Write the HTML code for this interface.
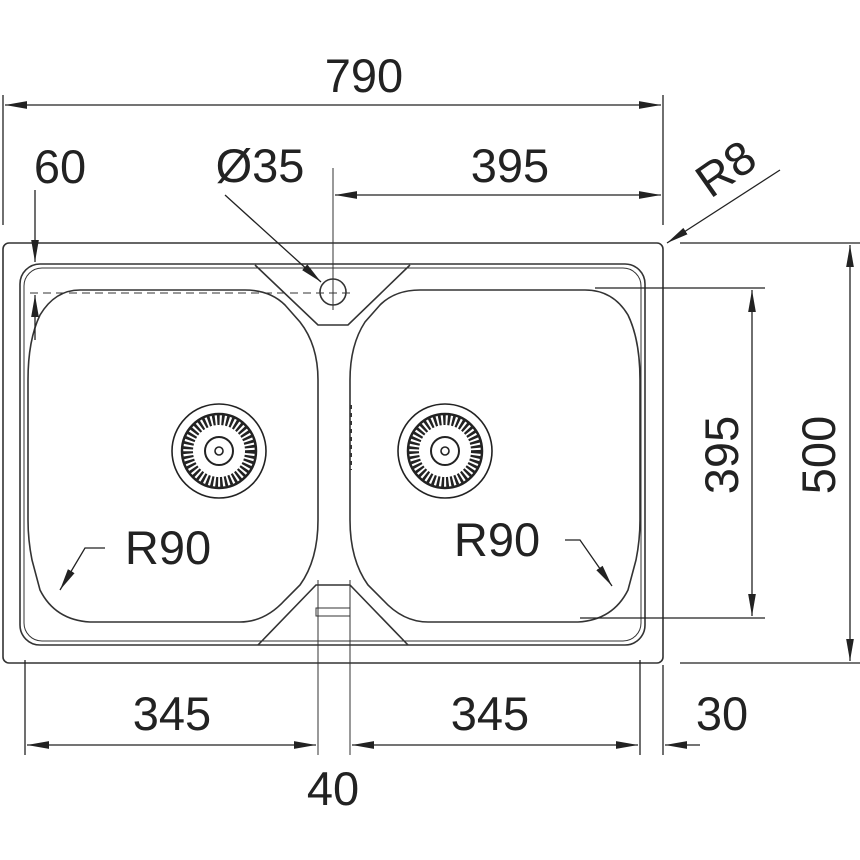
<!DOCTYPE html><html><head><style>body{margin:0;background:#fff}svg{display:block}text{font-family:"Liberation Sans",sans-serif;font-size:47px;fill:#222}</style></head><body>
<svg width="860" height="860" viewBox="0 0 860 860" xmlns="http://www.w3.org/2000/svg">
<defs>
<marker id="b" viewBox="0 0 20 10" refX="20" refY="5" markerWidth="22" markerHeight="11" markerUnits="userSpaceOnUse" orient="auto-start-reverse"><path d="M0,1.5 L20,5 L0,8.5Z" fill="#222"/></marker></defs>
<g fill="none" stroke="#333" stroke-width="1.6">
<rect x="3" y="243" width="660" height="420" rx="6"/>
<rect x="20" y="264" width="625" height="381" rx="20"/>
<rect x="24" y="268" width="617" height="373" rx="18" stroke-width="1"/>
<path d="M255,265 L318,325 L348,325 L410,265"/>
<path d="M258,645 L316,585 L350,585 L408,645"/>
<path d="M80,290 L245,290 Q270,290 285,305 L300,322 Q318,345 318,380 L318,520 Q318,560 300,585 L285,600 Q265,622 240,622 L90,622 Q55,620 40,590 L32,560 Q28,540 28,520 L28,380 Q28,340 40,315 Q55,290 80,290Z"/>
<path d="M585,290 L420,290 Q395,290 380,305 L365,322 Q350,345 350,380 L350,520 Q350,560 368,585 L383,600 Q403,622 428,622 L578,622 Q613,620 628,590 L636,560 Q640,540 640,520 L640,380 Q640,340 628,315 Q613,290 585,290Z"/>
<circle cx="333" cy="292" r="13"/>
<line x1="333" y1="168" x2="333" y2="310" stroke-width="1"/>
<line x1="30" y1="293" x2="355" y2="293" stroke-dasharray="8,5" stroke-width="1"/>
<rect x="316" y="608" width="34" height="8" stroke-width="1"/>
<line x1="318" y1="580" x2="318" y2="755" stroke-width="1"/><line x1="350" y1="580" x2="350" y2="755" stroke-width="1"/>
<g stroke="#222">
<circle cx="219" cy="451" r="47"/><circle cx="219" cy="451" r="31" stroke-width="10" stroke-dasharray="2.5,2"/><circle cx="219" cy="451" r="37" stroke-width="2.5"/><circle cx="219" cy="451" r="14" stroke-width="2"/><circle cx="219" cy="451" r="4"/>
<circle cx="445" cy="451" r="47"/><circle cx="445" cy="451" r="31" stroke-width="10" stroke-dasharray="2.5,2"/><circle cx="445" cy="451" r="37" stroke-width="2.5"/><circle cx="445" cy="451" r="14" stroke-width="2"/><circle cx="445" cy="451" r="4"/>
</g>
<line x1="351" y1="405" x2="351" y2="470" stroke-dasharray="4,4" stroke-width="2"/>
</g>
<g fill="none" stroke="#222" stroke-width="1.3">
<line x1="3" y1="95" x2="3" y2="225"/><line x1="663" y1="95" x2="663" y2="225"/>
<line x1="5" y1="105" x2="661" y2="105" marker-start="url(#b)" marker-end="url(#b)"/>
<line x1="335" y1="195" x2="661" y2="195" marker-start="url(#b)" marker-end="url(#b)"/>
<line x1="35" y1="190" x2="35" y2="262" marker-end="url(#b)"/>
<line x1="35" y1="340" x2="35" y2="295" marker-end="url(#b)"/>
<line x1="225" y1="195" x2="321" y2="282" marker-end="url(#b)"/>
<line x1="780" y1="170" x2="667" y2="243" marker-end="url(#b)"/>
<line x1="595" y1="288" x2="765" y2="288"/><line x1="580" y1="618" x2="765" y2="618"/>
<line x1="752" y1="290" x2="752" y2="616" marker-start="url(#b)" marker-end="url(#b)"/>
<line x1="680" y1="243" x2="860" y2="243"/><line x1="680" y1="663" x2="860" y2="663"/>
<line x1="850" y1="245" x2="850" y2="661" marker-start="url(#b)" marker-end="url(#b)"/>
<line x1="25" y1="660" x2="25" y2="755"/><line x1="640" y1="660" x2="640" y2="755"/><line x1="663" y1="665" x2="663" y2="755"/>
<line x1="27" y1="745" x2="316" y2="745" marker-start="url(#b)" marker-end="url(#b)"/>
<line x1="352" y1="745" x2="638" y2="745" marker-start="url(#b)" marker-end="url(#b)"/>
<line x1="700" y1="745" x2="665" y2="745" marker-end="url(#b)"/>
<polyline points="105,548 85,548 60,590" marker-end="url(#b)"/>
<polyline points="565,540 580,540 612,586" marker-end="url(#b)"/>
</g>
<text x="364" y="92" text-anchor="middle">790</text>
<text x="60" y="183" text-anchor="middle">60</text>
<text x="260" y="182" text-anchor="middle">Ø35</text>
<text x="510" y="182" text-anchor="middle">395</text>
<text transform="translate(735,182) rotate(-35)" text-anchor="middle">R8</text>
<text transform="translate(738,455) rotate(-90)" text-anchor="middle">395</text>
<text transform="translate(835,455) rotate(-90)" text-anchor="middle">500</text>
<text x="168" y="564" text-anchor="middle">R90</text>
<text x="497" y="556" text-anchor="middle">R90</text>
<text x="172" y="730" text-anchor="middle">345</text>
<text x="490" y="730" text-anchor="middle">345</text>
<text x="722" y="730" text-anchor="middle">30</text>
<text x="333" y="805" text-anchor="middle">40</text>
</svg></body></html>
